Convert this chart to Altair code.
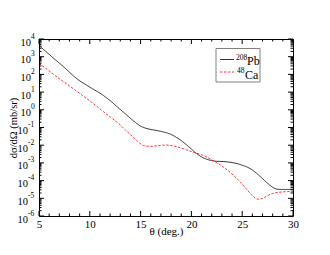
import altair as alt
import pandas as pd

theta = [5.0, 5.5, 6.0, 6.5, 7.0, 7.5, 8.0, 8.5, 9.0, 9.5,
         10.0, 10.5, 11.0, 11.5, 12.0, 12.5, 13.0, 13.5, 14.0, 14.5,
         15.0, 15.5, 16.0, 16.5, 17.0, 17.5, 18.0, 18.5, 19.0, 19.5,
         20.0, 20.5, 21.0, 21.5, 22.0, 22.5, 23.0, 23.5, 24.0, 24.5,
         25.0, 25.5, 26.0, 26.5, 27.0, 27.5, 28.0, 28.5, 29.0, 29.5, 30.0]

# log10 of dσ/dΩ (mb/sr)
pb_log = [3.64, 3.38, 3.13, 2.88, 2.64, 2.39, 2.12, 1.86, 1.64, 1.46,
          1.28, 1.11, 0.94, 0.74, 0.52, 0.27, 0.02, -0.23, -0.48, -0.72,
          -0.92, -1.04, -1.11, -1.16, -1.22, -1.29, -1.39, -1.55, -1.74, -1.97,
          -2.22, -2.47, -2.66, -2.79, -2.87, -2.91, -2.92, -2.94, -2.98, -3.04,
          -3.13, -3.24, -3.40, -3.63, -3.89, -4.15, -4.38, -4.49, -4.50, -4.50, -4.49]

ca_log = [2.63, 2.41, 2.19, 1.97, 1.76, 1.56, 1.35, 1.14, 0.93, 0.72,
          0.50, 0.28, 0.05, -0.18, -0.40, -0.62, -0.86, -1.14, -1.40, -1.67,
          -1.92, -2.05, -2.06, -2.04, -2.01, -1.99, -2.02, -2.08, -2.16, -2.26,
          -2.36, -2.45, -2.54, -2.66, -2.83, -2.99, -3.17, -3.39, -3.63, -3.90,
          -4.20, -4.53, -4.85, -5.05, -5.01, -4.85, -4.73, -4.67, -4.64, -4.62, -4.62]

mass_numbers = ["208", "48"]
elements = ["Pb", "Ca"]
series_names = [m + e for m, e in zip(mass_numbers, elements)]
series_colors = ["#000000", "#ff0000"]

x_major = [5, 10, 15, 20, 25, 30]
x_minor = [6, 7, 8, 9, 11, 12, 13, 14, 16, 17, 18, 19, 21, 22, 23, 24, 26, 27, 28, 29]
y_exponents = [-6, -5, -4, -3, -2, -1, 0, 1, 2, 3, 4]
y_minor = [k * 10.0 ** n for n in range(-6, 4) for k in range(2, 10)]

W, H = 254, 177
FONT = "Liberation Serif"

df = pd.DataFrame({
    "theta": theta * 2,
    "logv": pb_log + ca_log,
    "series": [series_names[0]] * len(theta) + [series_names[1]] * len(theta),
})
df["sigma"] = 10.0 ** df["logv"]

xscale = alt.Scale(domain=[5, 30], nice=False, zero=False)
yscale = alt.Scale(type="log", domain=[1e-6, 1e4], nice=False)

x_axis = alt.Axis(
    values=x_major, ticks=False, tickSize=0, domain=False, grid=False,
    labelFont=FONT, labelFontSize=11, labelPadding=2, labelColor="black",
    labelFlush=False, format="d",
    title="θ (deg.)", titleFont=FONT, titleFontSize=11, titleFontWeight="normal",
    titleColor="black", titleX=127, titleY=18, titleBaseline="alphabetic",
    titleAlign="center")
y_axis = alt.Axis(
    values=[10.0 ** e for e in y_exponents], labels=False, ticks=False, tickSize=0,
    domain=False, grid=False,
    title="dσ/dΩ (mb/sr)", titleFont=FONT, titleFontSize=10.5,
    titleFontWeight="normal", titleColor="black", titleX=-25.5, titleY=H / 2,
    titleAngle=270, titleAlign="center", titleBaseline="middle")

X = alt.X("theta:Q", scale=xscale, axis=x_axis)
Y = alt.Y("sigma:Q", scale=yscale, axis=y_axis)

lines = alt.Chart(df).mark_line(strokeWidth=0.8, interpolate="monotone", clip=True).encode(
    x=X, y=Y,
    color=alt.Color("series:N", scale=alt.Scale(domain=series_names, range=series_colors),
                    legend=None),
    strokeDash=alt.StrokeDash("series:N", scale=alt.Scale(domain=series_names,
                              range=[[1, 0], [2.5, 1.5]]), legend=None),
)

xmaj = pd.DataFrame({"theta": x_major})
xmin = pd.DataFrame({"theta": x_minor})
ymaj = pd.DataFrame({"sigma": [10.0 ** e for e in y_exponents]})
ymin = pd.DataFrame({"sigma": y_minor})


def xticks(data, y0, y1):
    return alt.Chart(data).mark_rule(color="black", strokeWidth=1).encode(
        x=X, y=alt.value(y0), y2=alt.value(y1))


def yticks(data, x0, x1):
    return alt.Chart(data).mark_rule(color="black", strokeWidth=1).encode(
        y=Y, x=alt.value(x0), x2=alt.value(x1))


# y tick labels: "10" with a raised exponent
ylab = pd.DataFrame({
    "sigma": [10.0 ** e for e in y_exponents],
    "exp": y_exponents,
    "base": ["10"] * len(y_exponents),
    "sup": [str(e) for e in y_exponents],
})


def ybase(test, xpos):
    return alt.Chart(ylab).transform_filter(test).mark_text(
        font=FONT, fontSize=10.5, align="right", baseline="alphabetic", dy=6.5,
        color="black").encode(y=Y, x=alt.value(xpos), text="base:N")


def ysup(test, xpos):
    return alt.Chart(ylab).transform_filter(test).mark_text(
        font=FONT, fontSize=7.5, align="left", baseline="alphabetic", dy=-0.5,
        color="black").encode(y=Y, x=alt.value(xpos), text="sup:N")


# legend (drawn inside the plot like the original)
one = pd.DataFrame({"k": [0]})
leg_box = alt.Chart(one).mark_rect(fill="white", stroke="#808080", strokeWidth=1).encode(
    x=alt.value(177), x2=alt.value(221), y=alt.value(9.5), y2=alt.value(43))


def leg_line(i, ypos, dash):
    return alt.Chart(one).mark_rule(color=series_colors[i], strokeWidth=0.8, strokeDash=dash).encode(
        x=alt.value(181), x2=alt.value(195), y=alt.value(ypos))


def leg_text(txt, xpos, ypos, size):
    return alt.Chart(pd.DataFrame({"t": [txt]})).mark_text(
        font=FONT, fontSize=size, align="left", baseline="alphabetic", color="black").encode(
        x=alt.value(xpos), y=alt.value(ypos), text="t:N")


chart = alt.layer(
    lines,
    xticks(xmaj, H, H - 5), xticks(xmin, H, H - 2.5),
    xticks(xmaj, 0, 5), xticks(xmin, 0, 2.5),
    yticks(ymaj, 0, 5), yticks(ymin, 0, 2.5),
    yticks(ymaj, W, W - 5), yticks(ymin, W, W - 2.5),
    ybase("datum.exp < 0", -11), ysup("datum.exp < 0", -11),
    ybase("datum.exp >= 0", -8), ysup("datum.exp >= 0", -8),
    leg_box,
    leg_line(0, 20.5, [1, 0]), leg_line(1, 33, [2.5, 1.5]),
    leg_text(mass_numbers[0], 197, 21, 7.5), leg_text(elements[0], 208, 26, 12),
    leg_text(mass_numbers[1], 198, 33.5, 7.5), leg_text(elements[1], 206, 40, 12),
).properties(
    width=W, height=H,
    autosize=alt.AutoSizeParams(type="none"),
    padding={"left": 31, "top": 31, "right": 29, "bottom": 31},
    background="white",
).configure_view(stroke="black", strokeWidth=1)

chart.save("out.html", embed_options={"renderer": "svg", "actions": False})
